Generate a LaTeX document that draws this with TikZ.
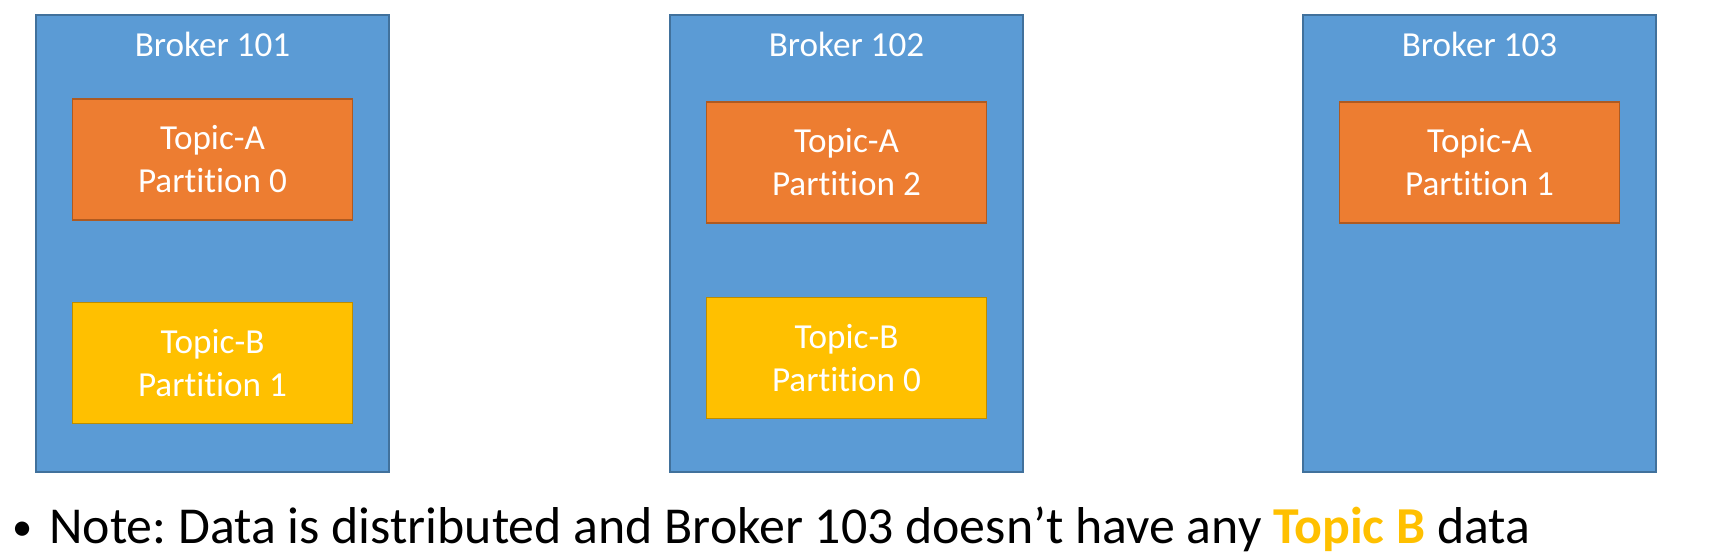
\documentclass[tikz,border=0pt]{standalone}
\usepackage{fontspec}
\setmainfont{Carlito}[Ligatures=NoCommon]
\usetikzlibrary{positioning}
\definecolor{brokerfill}{HTML}{5B9BD5}
\definecolor{brokerline}{HTML}{41719C}
\definecolor{afill}{HTML}{ED7D31}
\definecolor{aline}{HTML}{AE5A21}
\definecolor{bfill}{HTML}{FFC000}
\definecolor{bline}{HTML}{BC8C00}
\frenchspacing
\begin{document}
\begin{tikzpicture}[x=0.02cm, y=-0.02cm,
    every node/.style={font=\fontsize{20}{24.5}\selectfont, text=white, align=center},
    broker/.style={draw=brokerline, fill=brokerfill, line width=0.8pt, minimum width=7.06cm, minimum height=9.14cm},
    topica/.style={draw=aline, fill=afill, line width=0.8pt, minimum width=5.6cm, minimum height=2.42cm},
    topicb/.style={draw=bline, fill=bfill, line width=0.8pt, minimum width=5.6cm, minimum height=2.42cm}]
  \useasboundingbox (0,0) rectangle (1724,560);
  \coordinate (P) at (212.5,243.5); \coordinate (Q) at (846.5,243.5);
  \coordinate (R) at (1479.5,243.5);
  \node[broker] (b1) at (P) {}; \node[broker] (b2) at (Q) {};
  \node[broker] (b3) at (R) {};
  \node[anchor=base] (t1) at ([yshift=-0.84cm]b1.north) {Broker 101};
  \node[anchor=base] (t2) at ([yshift=-0.84cm]b2.north) {Broker 102};
  \node[anchor=base] (t3) at ([yshift=-0.84cm]b3.north) {Broker 103};
  \node[topica, below=1.68cm of b1.north] (a1) {Topic-A\\Partition 0};
  \node[topicb, below=1.62cm of a1] (c1) {Topic-B\\Partition 1};
  \node[topica, below=1.74cm of b2.north] (a2) {Topic-A\\Partition 2};
  \node[topicb, below=1.46cm of a2] (c2) {Topic-B\\Partition 0};
  \node[topica, below=1.74cm of b3.north] (a3) {Topic-A\\Partition 1};
  \node[anchor=base west, text=black, font=\fontsize{29.5}{34}\selectfont, inner sep=0pt] (note) at (12,543)
    {\makebox[21pt][l]{\raisebox{1.5pt}{\fontsize{23}{23}\selectfont\textbullet}}Note: Data is distributed and Broker 103 doesn’t have any \textcolor{bfill}{\textbf{Topic B}} data};
\end{tikzpicture}
\end{document}
